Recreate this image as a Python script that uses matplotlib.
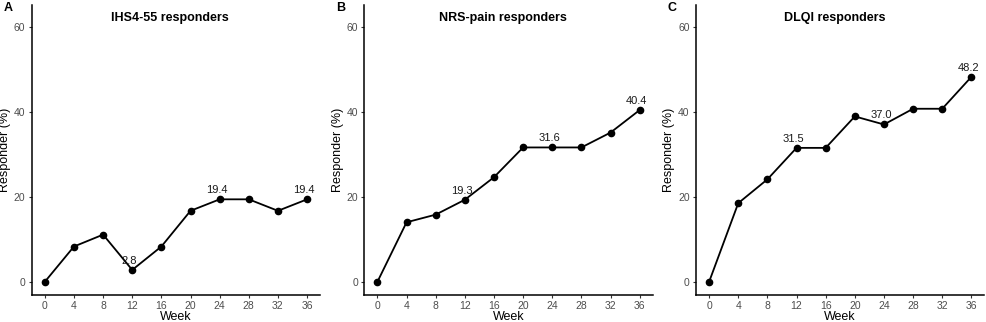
import matplotlib
matplotlib.use("Agg")
import matplotlib.pyplot as plt

plt.rcParams['font.family'] = ['Liberation Sans', 'DejaVu Sans']

weeks = [0, 4, 8, 12, 16, 20, 24, 28, 32, 36]

ihs4 = [0, 8.3, 11.1, 2.8, 8.3, 16.7, 19.4, 19.4, 16.7, 19.4]
nrs = [0, 14.0, 15.8, 19.3, 24.6, 31.6, 31.6, 31.6, 35.1, 40.4]
dlqi = [0, 18.5, 24.1, 31.5, 31.5, 38.9, 37.0, 40.7, 40.7, 48.2]

titles = ["IHS4-55 responders", "NRS-pain responders", "DLQI responders"]
letters = ["A", "B", "C"]
series = [ihs4, nrs, dlqi]
# weeks whose value is written above the point
labelled = [[12, 24, 36], [12, 24, 36], [12, 24, 36]]

yticks = [0, 20, 40, 60]

fig = plt.figure(figsize=(9.87, 3.22), dpi=100)

lefts = [31.7, 364.3, 696]
W, H = 987, 322

for i in range(3):
    ax = fig.add_axes([lefts[i] / W, 1 - 295 / H, 288.5 / W, 290 / H])
    vals = series[i]
    ax.plot(weeks, vals, color='black', lw=1.3, marker='o', ms=4.5, zorder=3)
    for w, v in zip(weeks, vals):
        if w in labelled[i]:
            ax.annotate(f"{v:.1f}", (w, v), xytext=(-2, 3), textcoords='offset points',
                        ha='center', va='bottom', fontsize=8, color='#1a1a1a')
    ax.set_xlim(-1.8, 37.8)
    ax.set_ylim(-3.1, 65.1)
    ax.set_xticks(weeks)
    ax.set_yticks(yticks)
    ax.tick_params(labelsize=7.5, labelcolor='#4d4d4d', length=2.5, width=0.8,
                   color='#333333', pad=2)
    for s in ['top', 'right']:
        ax.spines[s].set_visible(False)
    for s in ['left', 'bottom']:
        ax.spines[s].set_linewidth(1.1)
    ax.set_xlabel("Week", fontsize=9, labelpad=0)
    ax.set_ylabel("Responder (%)", fontsize=9, labelpad=2)
    ax.text(0.48, 0.955, titles[i], transform=ax.transAxes, ha='center', va='center',
            fontsize=9, fontweight='bold')
    fig.text((lefts[i] - 28) / W, 1 - 8 / H, letters[i], ha='left', va='center',
             fontsize=9, fontweight='bold')

fig.savefig("out.png", dpi=100)
